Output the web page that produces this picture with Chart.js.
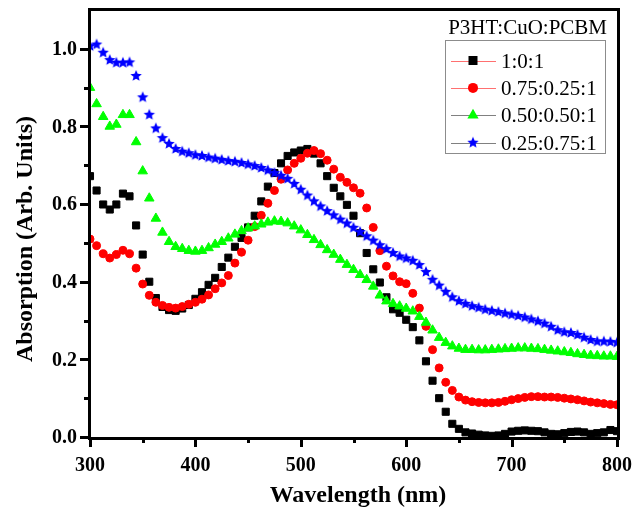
<!DOCTYPE html>
<html><head><meta charset="utf-8">
<script src="https://cdn.jsdelivr.net/npm/chart.js@4"></script>
<style>html,body{margin:0;padding:0;background:#fff;}#wrap{position:relative;width:633px;height:507px;}
#frame{position:absolute;left:88px;top:8px;width:532px;height:432px;border:3px solid #000;box-sizing:border-box;pointer-events:none;}</style>
</head><body><div id="wrap"><canvas id="c" width="633" height="507"></canvas><div id="frame"></div></div>
<script>
const wavelengths = [
  300, 306.25, 312.5, 318.75, 325, 331.25, 337.5, 343.75, 350, 356.25,
  362.5, 368.75, 375, 381.25, 387.5, 393.75, 400, 406.25, 412.5, 418.75,
  425, 431.25, 437.5, 443.75, 450, 456.25, 462.5, 468.75, 475, 481.25,
  487.5, 493.75, 500, 506.25, 512.5, 518.75, 525, 531.25, 537.5, 543.75,
  550, 556.25, 562.5, 568.75, 575, 581.25, 587.5, 593.75, 600, 606.25,
  612.5, 618.75, 625, 631.25, 637.5, 643.75, 650, 656.25, 662.5, 668.75,
  675, 681.25, 687.5, 693.75, 700, 706.25, 712.5, 718.75, 725, 731.25,
  737.5, 743.75, 750, 756.25, 762.5, 768.75, 775, 781.25, 787.5, 793.75,
  800
];
const abs_1_0_1 = [
  0.672,0.635,0.599,0.586,0.599,0.627,0.620,0.545,0.470,0.400,
  0.358,0.335,0.327,0.325,0.331,0.340,0.356,0.373,0.392,0.410,
  0.438,0.462,0.490,0.513,0.540,0.570,0.607,0.645,0.680,0.705,
  0.724,0.733,0.738,0.742,0.730,0.705,0.672,0.642,0.620,0.598,
  0.570,0.525,0.474,0.432,0.398,0.360,0.329,0.320,0.302,0.283,
  0.249,0.195,0.145,0.100,0.065,0.034,0.021,0.012,0.009,0.006,
  0.004,0.003,0.004,0.008,0.014,0.016,0.017,0.016,0.015,0.012,
  0.008,0.007,0.010,0.013,0.014,0.012,0.008,0.010,0.012,0.018,
  0.015
];
const abs_075_025_1 = [
  0.510,0.493,0.472,0.461,0.470,0.481,0.472,0.435,0.394,0.365,
  0.347,0.339,0.334,0.332,0.336,0.342,0.347,0.355,0.366,0.382,
  0.397,0.416,0.448,0.476,0.507,0.542,0.571,0.602,0.635,0.664,
  0.688,0.705,0.718,0.731,0.738,0.730,0.713,0.690,0.669,0.656,
  0.642,0.628,0.590,0.540,0.480,0.440,0.415,0.400,0.395,0.370,
  0.332,0.285,0.225,0.178,0.141,0.120,0.103,0.095,0.091,0.089,
  0.088,0.088,0.089,0.092,0.096,0.099,0.102,0.104,0.104,0.103,
  0.103,0.102,0.100,0.098,0.096,0.093,0.090,0.088,0.086,0.084,
  0.083
];
const abs_050_050_1 = [
  0.900,0.858,0.825,0.800,0.805,0.830,0.830,0.760,0.685,0.615,
  0.563,0.527,0.503,0.490,0.485,0.480,0.478,0.480,0.487,0.496,
  0.503,0.512,0.522,0.531,0.538,0.543,0.548,0.553,0.556,0.555,
  0.551,0.543,0.533,0.521,0.508,0.495,0.482,0.470,0.457,0.444,
  0.431,0.418,0.405,0.388,0.365,0.350,0.343,0.337,0.331,0.324,
  0.310,0.295,0.275,0.256,0.243,0.234,0.228,0.225,0.225,0.224,
  0.224,0.225,0.226,0.227,0.228,0.229,0.229,0.228,0.227,0.225,
  0.223,0.221,0.219,0.217,0.214,0.212,0.210,0.209,0.208,0.208,
  0.207
];
const abs_025_075_1 = [
  1.007,1.011,0.990,0.971,0.964,0.964,0.965,0.930,0.875,0.830,
  0.795,0.770,0.755,0.742,0.735,0.731,0.726,0.724,0.720,0.717,
  0.714,0.711,0.709,0.706,0.702,0.698,0.693,0.687,0.680,0.673,
  0.665,0.652,0.637,0.622,0.607,0.594,0.582,0.571,0.560,0.550,
  0.539,0.528,0.517,0.506,0.494,0.484,0.474,0.465,0.460,0.454,
  0.443,0.425,0.405,0.390,0.374,0.360,0.350,0.343,0.337,0.333,
  0.328,0.325,0.322,0.318,0.315,0.312,0.308,0.303,0.298,0.292,
  0.284,0.275,0.270,0.268,0.263,0.256,0.250,0.246,0.246,0.245,
  0.243
];
const seriesLabels = ['1:0:1', '0.75:0.25:1', '0.50:0.50:1', '0.25:0.75:1'];
const legendTitle = 'P3HT:CuO:PCBM';
const xTickValues = [300, 400, 500, 600, 700, 800];
const xMinorTickValues = [350, 450, 550, 650, 750];
const yTickValues = [0.0, 0.2, 0.4, 0.6, 0.8, 1.0];
const yMinorTickValues = [0.1, 0.3, 0.5, 0.7, 0.9];
const xTitle = 'Wavelength (nm)';
const yTitle = 'Absorption (Arb. Units)';

const SERIF = '"Liberation Serif", "Times New Roman", serif';

function makeStar(R, color) {
  const s = Math.ceil(R * 2 + 2);
  const c = document.createElement('canvas');
  c.width = s; c.height = s;
  const g = c.getContext('2d');
  g.fillStyle = color;
  g.beginPath();
  for (let k = 0; k < 10; k++) {
    const r = (k % 2) ? R * 0.45 : R;
    const a = -Math.PI / 2 + k * Math.PI / 5;
    g.lineTo(s / 2 + r * Math.cos(a), s / 2 + r * Math.sin(a));
  }
  g.closePath(); g.fill();
  return c;
}
const starImg = makeStar(6, '#0000ff');

function pts(ys) { return wavelengths.map((x, i) => ({ x: x, y: ys[i] })); }

const styles = [
  { color: '#000000', style: 'rect', radius: 5, order: 4, line: '#ff7070' },
  { color: '#ff0000', style: 'circle', radius: 4, order: 3, line: '#ff7070' },
  { color: '#00ff00', style: 'triangle', radius: 5.5, order: 2, line: '#808080' },
  { color: '#0000ff', style: starImg, radius: 6, order: 1, line: '#808080' }
];
const seriesData = [abs_1_0_1, abs_075_025_1, abs_050_050_1, abs_025_075_1];

const datasets = seriesData.map((d, i) => ({
  label: seriesLabels[i],
  data: pts(d),
  showLine: false,
  pointStyle: styles[i].style,
  pointRadius: styles[i].radius,
  pointBackgroundColor: styles[i].color,
  pointBorderColor: styles[i].color,
  pointBorderWidth: 1,
  order: styles[i].order
}));

function drawMarker(ctx, i, x, y) {
  const s = styles[i];
  ctx.fillStyle = s.color;
  if (i === 0) { ctx.fillRect(x - 4.5, y - 4.5, 9, 9); }
  else if (i === 1) { ctx.beginPath(); ctx.arc(x, y, 5, 0, Math.PI * 2); ctx.fill(); }
  else if (i === 2) {
    const r = 6.5;
    ctx.beginPath();
    ctx.moveTo(x, y - r);
    ctx.lineTo(x + r * Math.sin(2 * Math.PI / 3), y - r * Math.cos(2 * Math.PI / 3));
    ctx.lineTo(x + r * Math.sin(4 * Math.PI / 3), y - r * Math.cos(4 * Math.PI / 3));
    ctx.closePath(); ctx.fill();
  } else {
    ctx.drawImage(starImg, x - starImg.width / 2, y - starImg.height / 2);
  }
}

const decor = {
  id: 'decor',
  afterDraw(chart) {
    const ctx = chart.ctx;
    const xs = chart.scales.x, ys = chart.scales.y;
    const L = Math.round(xs.getPixelForValue(300)), B = Math.round(ys.getPixelForValue(0));
    ctx.save();
    ctx.fillStyle = '#000000';
    ctx.beginPath();
    yTickValues.forEach(v => { const p = Math.round(ys.getPixelForValue(v)); ctx.rect(L - 10, p - 1, 9, 3); });
    yMinorTickValues.forEach(v => { const p = Math.round(ys.getPixelForValue(v)); ctx.rect(L - 6, p - 1, 5, 3); });
    xTickValues.forEach(v => { const p = Math.round(xs.getPixelForValue(v)); ctx.rect(p - 1, B + 1, 3, 9); });
    xMinorTickValues.forEach(v => { const p = Math.round(xs.getPixelForValue(v)); ctx.rect(p - 1, B + 1, 3, 5); });
    ctx.fill();
    ctx.font = 'bold 20px ' + SERIF;
    ctx.textBaseline = 'middle';
    ctx.textAlign = 'right';
    yTickValues.forEach(v => { ctx.fillText(v.toFixed(1), L - 13, ys.getPixelForValue(v) + 1); });
    ctx.textAlign = 'center';
    xTickValues.forEach(v => { ctx.fillText(String(v), xs.getPixelForValue(v), B + 29); });
    ctx.font = 'bold 24px ' + SERIF;
    ctx.textBaseline = 'alphabetic';
    ctx.fillText(xTitle, 358, 502);
    ctx.save();
    ctx.translate(32, 239);
    ctx.rotate(-Math.PI / 2);
    ctx.fillText(yTitle, 0, 0);
    ctx.restore();
    ctx.font = '21px ' + SERIF;
    ctx.textAlign = 'right';
    ctx.fillText(legendTitle, 607, 34);
    ctx.fillStyle = '#fff';
    ctx.fillRect(445, 40, 161, 114);
    ctx.fillStyle = '#8c8c8c';
    ctx.fillRect(445, 40, 161, 1);
    ctx.fillRect(445, 153, 161, 1);
    ctx.fillRect(445, 40, 1, 114);
    ctx.fillRect(605, 40, 1, 114);
    ctx.textAlign = 'left';
    seriesLabels.forEach((lab, i) => {
      const cy = 60.5 + 27.4 * i;
      ctx.fillStyle = styles[i].line;
      ctx.fillRect(451, Math.round(cy), 45, 1);
      drawMarker(ctx, i, 473, cy);
      ctx.fillStyle = '#000';
      ctx.font = '21px ' + SERIF;
      ctx.fillText(lab, 501, cy + 7);
    });
    ctx.restore();
  }
};

new Chart(document.getElementById('c'), {
  type: 'scatter',
  data: { datasets: datasets },
  options: {
    responsive: false,
    animation: false,
    devicePixelRatio: 1,
    layout: { padding: { top: 10, right: 16, left: 0, bottom: 0 } },
    plugins: { legend: { display: false }, tooltip: { enabled: false } },
    scales: {
      x: {
        type: 'linear', min: 300, max: 800,
        grid: { display: false, drawTicks: false },
        border: { display: false },
        ticks: { display: false },
        afterFit: s => { s.height = 70; }
      },
      y: {
        type: 'linear', min: 0, max: 1.1,
        grid: { display: false, drawTicks: false },
        border: { display: false },
        ticks: { display: false },
        afterFit: s => { s.width = 90; }
      }
    }
  },
  plugins: [decor]
});
</script>
</body></html>
